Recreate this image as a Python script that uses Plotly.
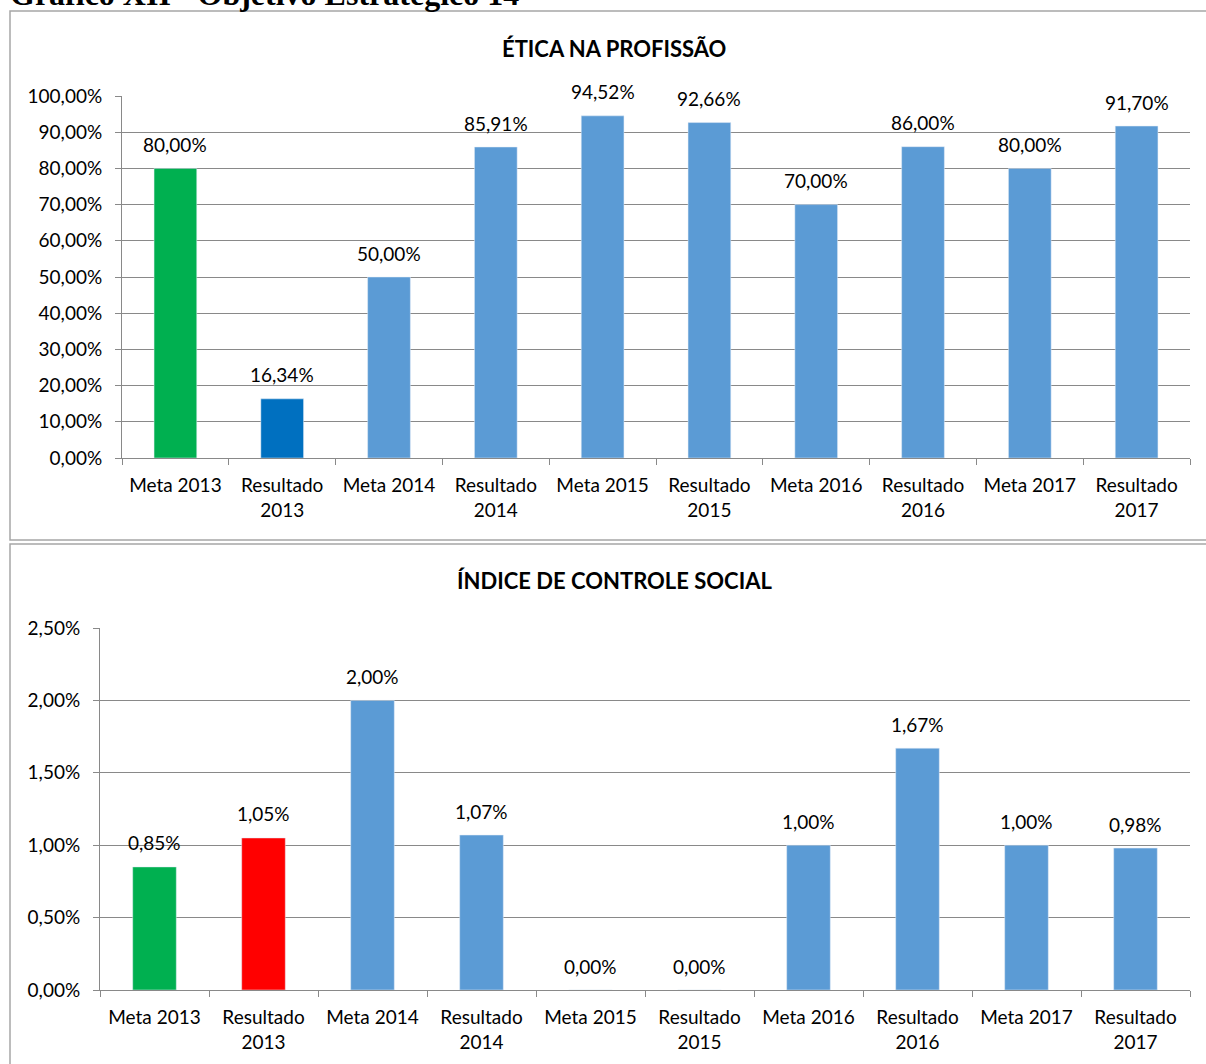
import plotly.graph_objects as go

W, H = 1206, 1064

categories = ["Meta 2013", "Resultado<br>2013", "Meta 2014", "Resultado<br>2014",
              "Meta 2015", "Resultado<br>2015", "Meta 2016", "Resultado<br>2016",
              "Meta 2017", "Resultado<br>2017"]
etica_values = [0.80, 0.1634, 0.50, 0.8591, 0.9452, 0.9266, 0.70, 0.86, 0.80, 0.917]
controle_values = [0.0085, 0.0105, 0.02, 0.0107, 0.0, 0.0, 0.01, 0.0167, 0.01, 0.0098]
etica_colors = ["#00B050", "#0070C0"] + ["#5B9BD5"] * 8
controle_colors = ["#00B050", "#FF0000"] + ["#5B9BD5"] * 8
etica_ticks = [i / 10 for i in range(11)]
controle_ticks = [0, 0.005, 0.01, 0.015, 0.02, 0.025]

FONT = "Lato"
GRID = "#898989"

def px_x(p):
    return p / W

def px_y(p):
    return 1 - p / H

def pct(v):
    return f"{v*100:.2f}%".replace(".", ",")

fig = go.Figure()
fig.add_trace(go.Bar(x=categories, y=etica_values, marker_color=etica_colors,
                     width=0.4, xaxis="x", yaxis="y", hoverinfo="skip"))
fig.add_trace(go.Bar(x=categories, y=controle_values, marker_color=controle_colors,
                     width=0.4, xaxis="x2", yaxis="y2", hoverinfo="skip"))

annotations = []
for c, v in zip(categories, etica_values):
    annotations.append(dict(x=c, y=v, xref="x", yref="y", text=pct(v),
                            showarrow=False, yanchor="middle", yshift=24,
                            font=dict(family=FONT, size=19, color="#000")))
for c, v in zip(categories, controle_values):
    annotations.append(dict(x=c, y=v, xref="x2", yref="y2", text=pct(v),
                            showarrow=False, yanchor="middle", yshift=24,
                            font=dict(family=FONT, size=19, color="#000")))
annotations.append(dict(x=px_x(614), y=px_y(48), xref="paper", yref="paper",
                        text="<b>ÉTICA NA PROFISSÃO</b>", showarrow=False,
                        xanchor="center", yanchor="middle",
                        font=dict(family=FONT, size=22, color="#000")))
annotations.append(dict(x=px_x(614), y=px_y(580), xref="paper", yref="paper",
                        text="<b>ÍNDICE DE CONTROLE SOCIAL</b>", showarrow=False,
                        xanchor="center", yanchor="middle",
                        font=dict(family=FONT, size=22, color="#000")))
annotations.append(dict(x=px_x(8), y=px_y(-6), xref="paper", yref="paper",
                        text="<b>Gráfico XII - Objetivo Estratégico 14</b>", showarrow=False,
                        xanchor="left", yanchor="middle",
                        font=dict(family="Liberation Serif", size=32, color="#000")))

axis_common = dict(showline=True, linecolor=GRID, linewidth=1, ticks="outside",
                   tickcolor=GRID, ticklen=6, tickfont=dict(family=FONT, size=19, color="#000"),
                   fixedrange=True, automargin=False)

fig.update_layout(
    width=W, height=H, margin=dict(l=0, r=0, t=0, b=0, autoexpand=False),
    paper_bgcolor="white", plot_bgcolor="white", showlegend=False,
    separators=",.",
    annotations=annotations,
    xaxis=dict(domain=[px_x(122), px_x(1190)], anchor="y", type="category",
               tickson="boundaries", showgrid=False, ticklabelstandoff=10, **axis_common),
    yaxis=dict(domain=[px_y(458), px_y(96)], anchor="x", range=[0, 1],
               tickvals=etica_ticks, tickformat=".2%", showgrid=True, gridcolor=GRID,
               gridwidth=1, zeroline=False, ticklabelstandoff=9, **axis_common),
    xaxis2=dict(domain=[px_x(100), px_x(1190)], anchor="y2", type="category",
                tickson="boundaries", showgrid=False, ticklabelstandoff=10, **axis_common),
    yaxis2=dict(domain=[px_y(990), px_y(628)], anchor="x2", range=[0, 0.025],
                tickvals=controle_ticks, tickformat=".2%", showgrid=True, gridcolor=GRID,
                gridwidth=1, zeroline=False, ticklabelstandoff=9, **axis_common),
    shapes=[
        dict(type="rect", xref="paper", yref="paper", x0=px_x(10), x1=px_x(1212),
             y0=px_y(540), y1=px_y(11), line=dict(color="#a6a6a6", width=1.5)),
        dict(type="rect", xref="paper", yref="paper", x0=px_x(10), x1=px_x(1212),
             y0=px_y(1070), y1=px_y(544), line=dict(color="#a6a6a6", width=1.5)),
    ],
)

fig.write_html("out.html", config={"displayModeBar": False},
               post_script="document.body.style.margin='0px';document.body.style.overflow='hidden';")
